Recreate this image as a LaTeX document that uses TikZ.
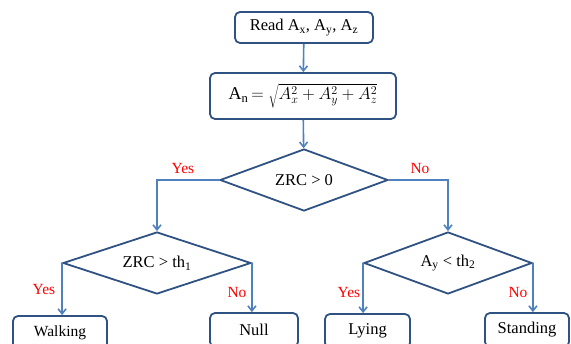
\documentclass[tikz,border=0pt]{standalone}
\usepackage{fontspec}
\setmainfont{Liberation Serif}
\usetikzlibrary{shapes.geometric,arrows.meta}
\definecolor{boxblue}{HTML}{2F5283}
\definecolor{arrowblue}{HTML}{4F81BD}
\tikzset{
  procbox/.style={draw=boxblue, line width=1.8pt, rounded corners=5pt, fill=white,
    inner sep=0pt, font=\fontsize{16.5}{19}\selectfont},
  decision/.style={diamond, draw=boxblue, line width=1.8pt, inner sep=0pt,
    font=\fontsize{16.5}{19}\selectfont},
  flow/.style={draw=arrowblue, line width=1.6pt, -{Straight Barb[length=5pt,width=8pt]}},
  branch/.style={text=red, font=\fontsize{15.5}{18}\selectfont},
}
\begin{document}
\begin{tikzpicture}[x=1pt,y=-1pt]
\useasboundingbox (0,0) rectangle (571,344);
\clip (0,0) rectangle (571,344);

% input and magnitude
\node[procbox, minimum width=138pt, minimum height=31pt] (read) at (304,27.5) {Read A\textsubscript{x}, A\textsubscript{y}, A\textsubscript{z}};
\node[procbox, minimum width=186pt, minimum height=46pt] (mag) at (303,96)
  {\fontsize{18}{21}\selectfont A\textsubscript{n}$\,=\sqrt{A_x^2+A_y^2+A_z^2}$};

% decisions
\node[decision, aspect=2.7, minimum width=168pt, minimum height=62pt] (zrc) at (304,180) {ZRC > 0};
\node[decision, aspect=3.0, minimum width=188pt, minimum height=62pt] (zth) at (157,263) {ZRC > th\textsubscript{1}};
\node[decision, aspect=2.7, minimum width=168pt, minimum height=62pt] (ath) at (448,263) {A\textsubscript{y} < th\textsubscript{2}};

% activities
\node[procbox, minimum width=94pt, minimum height=34pt] (walk) at (60,333) {\fontsize{15.5}{17}\selectfont Walking};
\node[procbox, minimum width=88pt, minimum height=34pt] (null) at (254,330) {Null};
\node[procbox, minimum width=85pt, minimum height=34pt] (lie) at (367.5,331) {Lying};
\node[procbox, minimum width=84pt, minimum height=34pt] (stand) at (527,330) {Standing};

% connectors
\draw[flow] (read) -- (mag);
\draw[flow] (mag) -- (zrc);
\draw[flow] (zrc.west) -| (zth.north);
\draw[flow] (zrc.east) -| (ath.north);
\draw[flow] (zth.west) -- (zth.west |- walk.north);
\draw[flow] (zth.east) -- (zth.east |- null.north);
\draw[flow] (ath.west) -- (ath.west |- lie.north);
\draw[flow] (ath.east) -- (ath.east |- stand.north);

% branch labels
\node[branch] (y1) at (183,169) {Yes};
\node[branch] (n1) at (420,169) {No};
\node[branch] (y2) at (44,290) {Yes};
\node[branch] (n2) at (237,293) {No};
\node[branch] (y3) at (349,293) {Yes};
\node[branch] (n3) at (518,293) {No};
\end{tikzpicture}
\end{document}
